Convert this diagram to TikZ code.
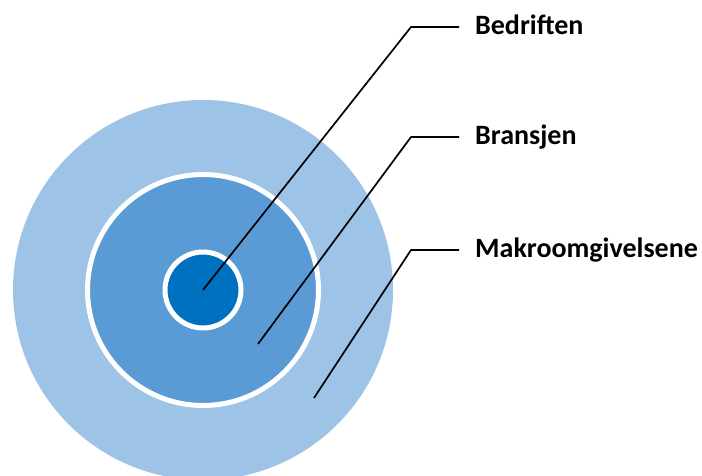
\documentclass[tikz,border=0pt]{standalone}
\usepackage{fontspec}
\setmainfont{Carlito}
\definecolor{makroblue}{HTML}{9DC3E6}
\definecolor{bransjeblue}{HTML}{5B9BD5}
\definecolor{bedriftblue}{HTML}{0070C0}

\begin{document}
\begin{tikzpicture}[x=1pt,y=-1pt,line join=round,
    ring/.style={circle,draw=white,line width=5pt,inner sep=0pt},
    leader/.style={line width=1.7pt},
    lab/.style={anchor=base west,inner sep=0pt,font=\fontsize{28}{30}\selectfont\bfseries}]
  \useasboundingbox (0,0) rectangle (702,476);
  % the three circles
  \node[circle,fill=makroblue,inner sep=0pt,minimum size=380pt] (makro) at (203,290) {};
  \node[ring,fill=bransjeblue,minimum size=231pt] (bransje) at (203,290) {};
  \node[ring,fill=bedriftblue,minimum size=76pt] (bedrift) at (203,290) {};
  % where the leaders start
  \coordinate (p1) at (bedrift.center);
  \coordinate (p2) at (258,344);
  \coordinate (p3) at (314,398);
  % leaders and labels
  \foreach \n/\y/\t in {1/27/Bedriften, 2/137/Bransjen, 3/250/Makroomgivelsene}{
    \coordinate (k\n) at (411,\y);
    \coordinate (e\n) at (459,\y);
    \node[lab] (l\n) at (475,\y+8) {\t};
    \draw[leader] (p\n) -- (k\n) -- (e\n);
  }
\end{tikzpicture}
\end{document}
